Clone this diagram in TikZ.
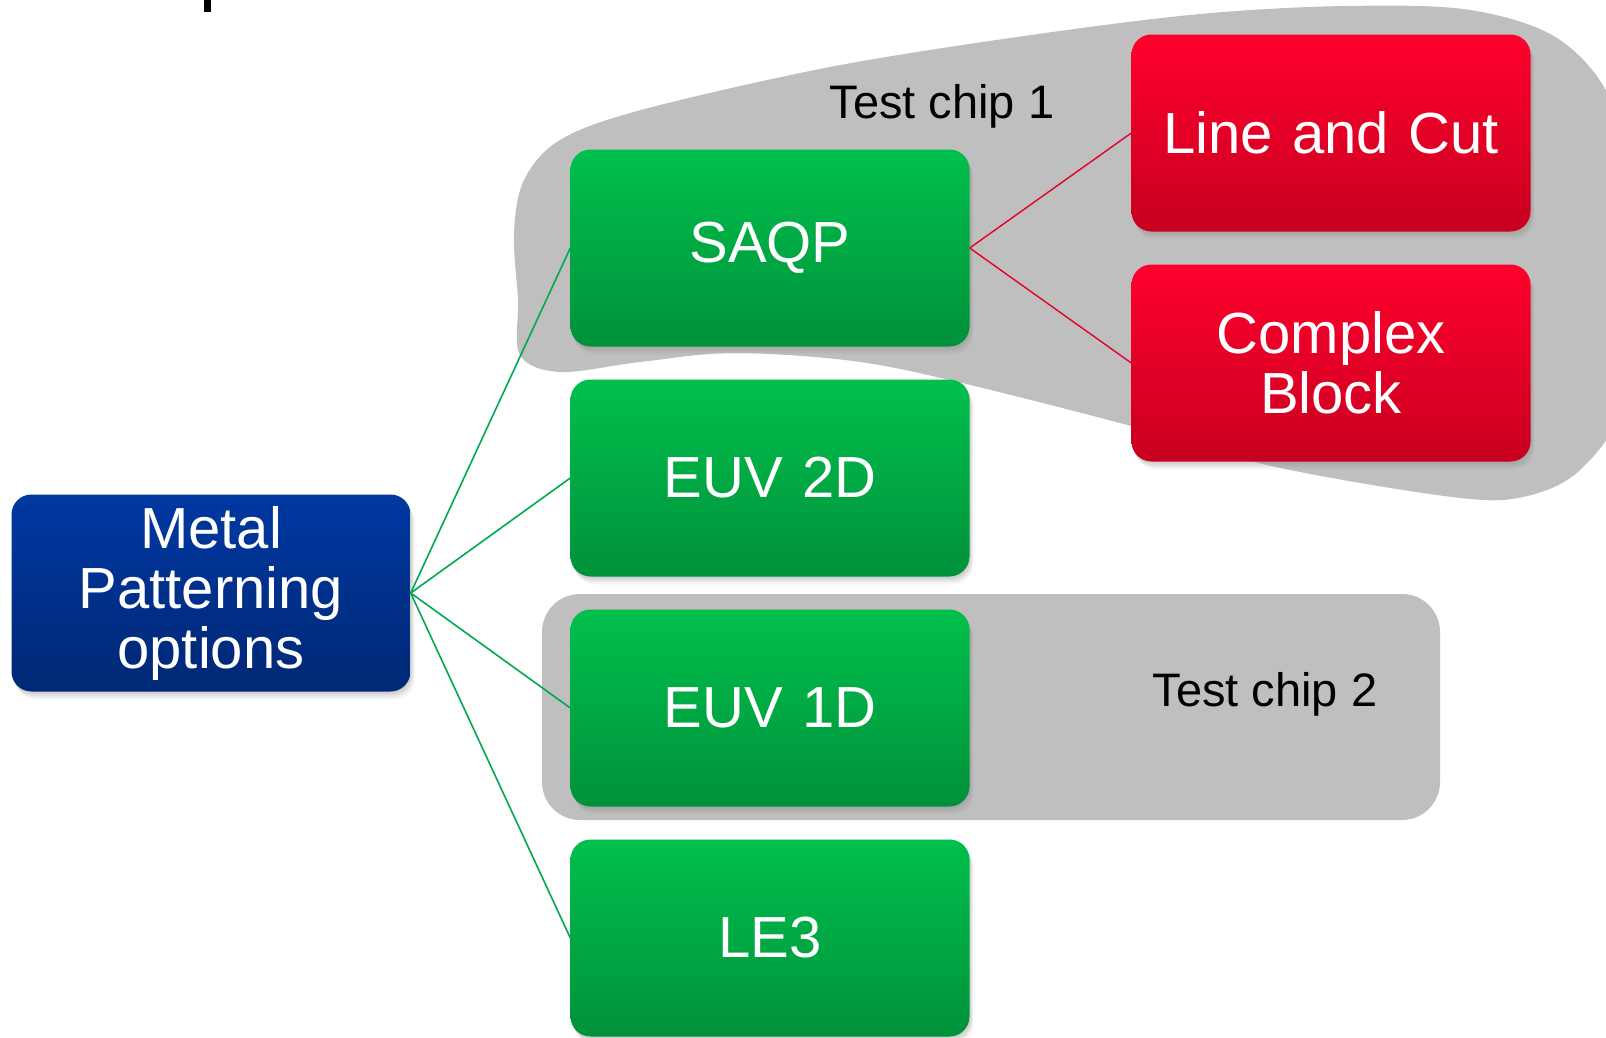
\documentclass[tikz,border=0pt]{standalone}
\usepackage{fontspec}
\setmainfont{Liberation Sans}
\usetikzlibrary{shadows}

\definecolor{greytone}{RGB}{191,191,191}
\definecolor{gtop}{RGB}{0,192,76}
\definecolor{gbot}{RGB}{0,145,58}
\definecolor{rtop}{RGB}{255,0,44}
\definecolor{rbot}{RGB}{200,0,32}
\definecolor{btop}{RGB}{0,56,162}
\definecolor{bbot}{RGB}{0,40,116}
\definecolor{gline}{RGB}{0,170,80}
\definecolor{rline}{RGB}{230,0,40}

\tikzset{
  softshadow/.style={
    drop shadow={shadow xshift=1pt, shadow yshift=-2pt, opacity=0.12},
    drop shadow={shadow xshift=2pt, shadow yshift=-4pt, opacity=0.12},
    drop shadow={shadow xshift=3pt, shadow yshift=-6pt, opacity=0.10},
    drop shadow={shadow xshift=4pt, shadow yshift=-8pt, opacity=0.06}},
  optbox/.style={rounded corners=20pt, minimum width=399pt, minimum height=197pt,
    text width=380pt, align=center, text=white,
    font=\fontsize{58}{60}\selectfont, softshadow},
  greenbox/.style={optbox, top color=gtop, bottom color=gbot},
  redbox/.style={optbox, top color=rtop, bottom color=rbot},
  bluebox/.style={optbox, top color=btop, bottom color=bbot},
  glink/.style={draw=gline, line width=1.6pt},
  rlink/.style={draw=rline, line width=1.4pt},
  chiplabel/.style={font=\fontsize{47}{50}\selectfont, text=black, inner sep=0pt}
}

\begin{document}
\begin{tikzpicture}[x=1pt, y=-1pt]
\useasboundingbox (0,0) rectangle (1606,1037);
\clip (0,0) rectangle (1606,1037);
\fill[white] (0,0) rectangle (1606,1037);

% stray mark at the top edge
\fill[black] (204,0) rectangle (211,12);

% test chip 1 region
\fill[greytone] plot[smooth cycle, tension=0.55] coordinates {
  (1346,6) (1470,10) (1560,40) (1615,110) (1640,250) (1625,400) (1580,470)
  (1523,497) (1452,497) (1276,467) (1135,427) (958,382) (853,361) (733,353)
  (640,362) (560,372) (520,355) (518,300) (514,233) (524,180) (560,140)
  (641,110) (830,67) (1024,36) (1200,14)};
\node[chiplabel] (tc1) at (942,106) {Test chip 1};

% test chip 2 region
\fill[greytone, rounded corners=38pt] (542,594) rectangle (1440,820);
\node[chiplabel] (tc2) at (1265,694) {Test chip 2};

% nodes
\node[bluebox]  (mpo)  at (211,593) {Metal\\Patterning\\options};
\node[greenbox] (saqp) at (770,248) {SAQP};
\node[greenbox] (e2d)  at (770,478) {EUV 2D};
\node[greenbox] (e1d)  at (770,708) {EUV 1D};
\node[greenbox] (le3)  at (770,938) {LE3};
\node[redbox]   (lac)  at (1331,133) {Line and Cut};
\node[redbox]   (cb)   at (1331,363) {Complex\\Block};

% connectors
\foreach \t in {saqp,e2d,e1d,le3}
  \draw[glink] (mpo.east) -- (\t.west);
\draw[rlink] (saqp.east) -- (lac.west);
\draw[rlink] (saqp.east) -- (cb.west);
\end{tikzpicture}
\end{document}
